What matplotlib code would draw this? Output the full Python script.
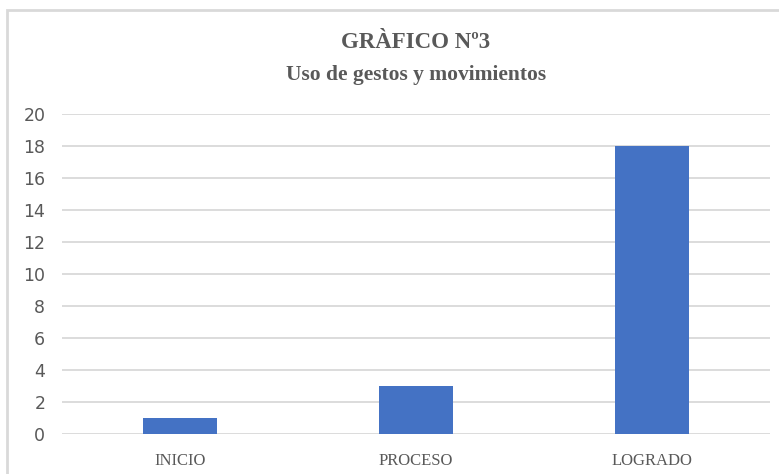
import matplotlib
matplotlib.use("Agg")
import matplotlib.pyplot as plt
from matplotlib.patches import Rectangle

categorias = ["INICIO", "PROCESO", "LOGRADO"]
valores = [1, 3, 18]
ticks_y = [0, 2, 4, 6, 8, 10, 12, 14, 16, 18, 20]
titulo_1 = "GRÀFICO Nº3"
titulo_2 = "Uso de gestos y movimientos"

gris = "#595959"
azul = "#4472C4"

fig = plt.figure(figsize=(7.79, 4.74), dpi=100)
ax = fig.add_axes([62 / 779, 1 - 434 / 474, (770 - 62) / 779, 320 / 474])

# borde del grafico (recortado como en la captura)
fig.patches.append(Rectangle((7 / 779, -0.05), 1.0, 1 - 10 / 474 + 0.05,
                             transform=fig.transFigure, fill=False,
                             edgecolor="#D9D9D9", linewidth=2))

x = range(len(categorias))
ax.bar(x, valores, width=0.315, color=azul, zorder=3)

ax.set_xlim(-0.5, 2.5)
ax.set_ylim(0, 20)
ax.set_yticks(ticks_y)
ax.set_xticks(list(x))
ax.set_xticklabels(categorias, family="Liberation Serif", fontsize=12, color=gris)
ax.set_yticklabels([str(t) for t in ticks_y],
                   family=["Liberation Sans Narrow", "DejaVu Sans"], fontsize=12.5, color=gris)
ax.tick_params(length=0, pad=12)
ax.tick_params(axis="x", pad=14)
ax.grid(axis="y", color="#D9D9D9", linewidth=1.3, zorder=0)
for s in ax.spines.values():
    s.set_visible(False)

fig.text(0.534, 1 - 43 / 474, titulo_1, ha="center", va="center", family="Liberation Serif",
         fontweight="bold", fontsize=16.5, color=gris)
fig.text(0.534, 1 - 75 / 474, titulo_2, ha="center", va="center", family="Liberation Serif",
         fontweight="bold", fontsize=15.5, color=gris)

fig.savefig("out.png", dpi=100)
